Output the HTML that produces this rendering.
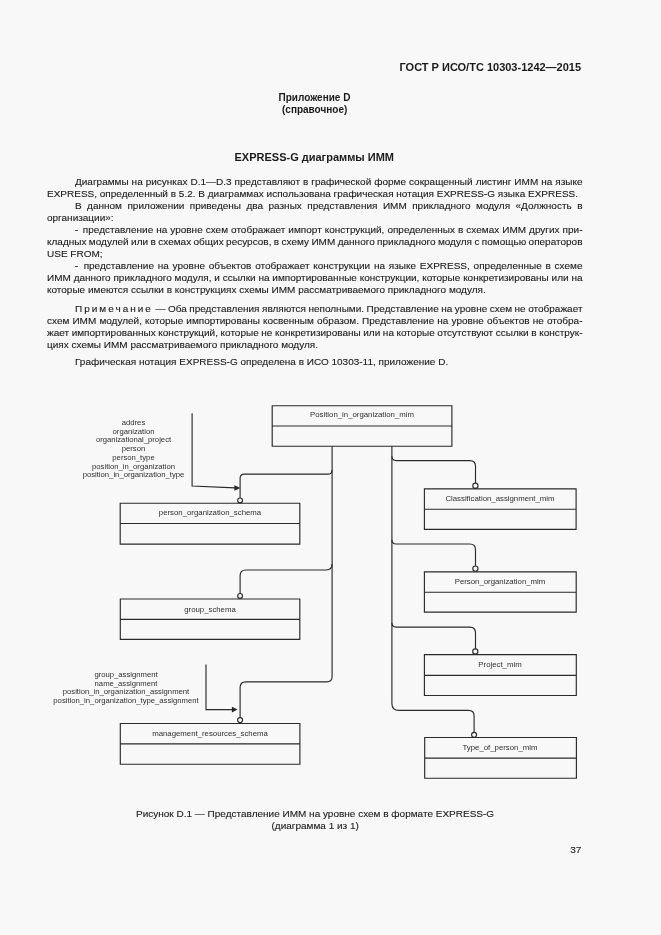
<!DOCTYPE html>
<html><head><meta charset="utf-8">
<style>
html,body{margin:0;padding:0;}
body{filter:grayscale(1);width:661px;height:935px;background:#f8f8f8;position:relative;overflow:hidden;font-family:"Liberation Sans",sans-serif;color:#1a1a1a;}
.a{position:absolute;white-space:nowrap;}
.t{position:absolute;left:47px;width:535.5px;font-size:10px;line-height:12px;height:12px;white-space:nowrap;transform:scaleY(0.9);transform-origin:0 9.5px;-webkit-text-stroke:0.12px #1a1a1a;}
.j{text-align:justify;text-align-last:justify;white-space:normal;word-spacing:-2px;}
.i{padding-left:28px;width:507.5px;}
.b{font-weight:bold;}
.c{transform:scaleY(0.9);transform-origin:0 9.5px;-webkit-text-stroke:0.12px #1a1a1a;}
.sp{letter-spacing:2.0px;}
svg{position:absolute;left:0;top:0;}
.lbl{position:absolute;font-size:7.7px;line-height:8.7px;text-align:center;white-space:nowrap;color:#2e2e2e;}
</style></head><body>
<div class="a b" style="left:399.5px;top:59.5px;font-size:11px;line-height:14px;">ГОСТ Р ИСО/ТС 10303-1242—2015</div>
<div class="a b" style="left:278.5px;top:92.2px;font-size:10px;line-height:12px;">Приложение D</div>
<div class="a b" style="left:282px;top:103.8px;font-size:10px;line-height:12px;">(справочное)</div>
<div class="a b" style="left:234.5px;top:150px;font-size:11px;line-height:14px;">EXPRESS-G диаграммы ИММ</div>

<div class="t j i" style="top:176px;">Диаграммы на рисунках D.1—D.3 представляют в графической форме сокращенный листинг ИММ на языке</div>
<div class="t" style="top:188px;">EXPRESS, определенный в 5.2. В диаграммах использована графическая нотация EXPRESS-G языка EXPRESS.</div>
<div class="t j i" style="top:200px;">В данном приложении приведены два разных представления ИММ прикладного модуля «Должность в</div>
<div class="t" style="top:212px;">организации»:</div>
<div class="t j i" style="top:224px;"><span style="margin-right:1.5px">-</span> представление на уровне схем отображает импорт конструкций, определенных в схемах ИММ других при-</div>
<div class="t j" style="top:236px;">кладных модулей или в схемах общих ресурсов, в схему ИММ данного прикладного модуля с помощью операторов</div>
<div class="t" style="top:248px;">USE FROM;</div>
<div class="t j i" style="top:260px;"><span style="margin-right:1.5px">-</span> представление на уровне объектов отображает конструкции на языке EXPRESS, определенные в схеме</div>
<div class="t j" style="top:272px;">ИММ данного прикладного модуля, и ссылки на импортированные конструкции, которые конкретизированы или на</div>
<div class="t" style="top:284px;">которые имеются ссылки в конструкциях схемы ИММ рассматриваемого прикладного модуля.</div>
<div class="t j i" style="top:302.5px;"><span class="sp">Примечание</span> — Оба представления являются неполными. Представление на уровне схем не отображает</div>
<div class="t j" style="top:314.5px;">схем ИММ модулей, которые импортированы косвенным образом. Представление на уровне объектов не отобра-</div>
<div class="t j" style="top:326.5px;">жает импортированных конструкций, которые не конкретизированы или на которые отсутствуют ссылки в конструк-</div>
<div class="t" style="top:338.5px;">циях схемы ИММ рассматриваемого прикладного модуля.</div>
<div class="t i" style="top:356.3px;">Графическая нотация EXPRESS-G определена в ИСО 10303-11, приложение D.</div>

<svg width="661" height="935" viewBox="0 0 661 935">
<g fill="none" stroke="#2a2a2a" stroke-width="1.15">
<!-- main box -->
<path d="M272.2 405.7 H451.9 V446.2 H272.2 Z M272.2 426 H451.9"/>
<!-- left boxes -->
<path d="M120.2 503.2 H299.8 V544.1 H120.2 Z M120.2 523.5 H299.8"/>
<path d="M120.3 599 H299.8 V639.4 H120.3 Z M120.3 619.3 H299.8"/>
<path d="M120.3 723.5 H299.9 V764.2 H120.3 Z M120.3 743.8 H299.9"/>
<!-- right boxes -->
<path d="M424.4 488.9 H576.1 V529.3 H424.4 Z M424.4 509.2 H576.1"/>
<path d="M424.4 571.8 H576.2 V612.1 H424.4 Z M424.4 592.2 H576.2"/>
<path d="M424.4 654.6 H576.3 V695.5 H424.4 Z M424.4 675.3 H576.3"/>
<path d="M424.7 737.5 H576.4 V778.2 H424.7 Z M424.7 758.1 H576.4"/>
<!-- left trunk -->
<path d="M332.1 446.2 V676.6 Q332.1 681.9 326.8 681.9 H245.8 Q240.1 681.9 240.1 687.6 V717.2"/>
<path d="M332.1 469.9 Q332.1 474.1 327.9 474.1 H244.3 Q240.1 474.1 240.1 478.3 V497.8"/>
<path d="M332.1 564.1 Q332.1 570 326.2 570 H245.9 Q240.1 570 240.1 575.8 V593.3"/>
<!-- right trunk -->
<path d="M391.9 446.2 V703.4 Q391.9 710.3 398.8 710.3 H468.6 Q474.1 710.3 474.1 715.8 V732.2"/>
<path d="M391.9 456.3 Q391.9 460.6 396.2 460.6 H469.8 Q475.5 460.6 475.5 466.3 V483"/>
<path d="M391.9 539.8 Q391.9 544 396.1 544 H469.8 Q475.5 544 475.5 549.7 V565.8"/>
<path d="M391.9 622.8 Q391.9 627.1 396.2 627.1 H469.8 Q475.5 627.1 475.5 632.8 V648.7"/>
<!-- circles -->
<circle cx="240.1" cy="500.4" r="2.4"/>
<circle cx="240.1" cy="595.9" r="2.4"/>
<circle cx="240.1" cy="720.1" r="2.5"/>
<circle cx="475.4" cy="485.8" r="2.6"/>
<circle cx="475.4" cy="568.6" r="2.6"/>
<circle cx="475.3" cy="651.5" r="2.6"/>
<circle cx="474.1" cy="734.8" r="2.5"/>
<!-- arrows -->
<path d="M192.1 413.2 V486 L235 487.9"/>
<path d="M206 664.5 V709.6 H233"/>
</g>
<g fill="#262626">
<path d="M240.4 488.1 L234.4 485.3 L234.4 490.7 Z"/>
<path d="M237.6 709.6 L231.9 706.8 L231.9 712.5 Z"/>
</g>
</svg>

<div class="lbl" style="font-size:7.8px;left:272px;width:180px;top:411px;">Position_in_organization_mim</div>
<div class="lbl" style="font-size:7.8px;left:120px;width:180px;top:509px;">person_organization_schema</div>
<div class="lbl" style="font-size:7.8px;left:120px;width:180px;top:606px;">group_schema</div>
<div class="lbl" style="font-size:7.8px;left:120px;width:180px;top:730px;">management_resources_schema</div>
<div class="lbl" style="font-size:7.8px;left:424px;width:152px;top:495px;">Classification_assignment_mim</div>
<div class="lbl" style="font-size:7.8px;left:424px;width:152px;top:578px;">Person_organization_mim</div>
<div class="lbl" style="font-size:7.8px;left:424px;width:152px;top:661px;">Project_mim</div>
<div class="lbl" style="font-size:7.8px;left:424px;width:152px;top:744px;">Type_of_person_mim</div>

<div class="lbl" style="left:73.5px;width:120px;top:419px;">addres<br>organization<br>organizational_project<br>person<br>person_type<br>position_in_organization<br>position_in_organization_type</div>
<div class="lbl" style="left:36px;width:180px;top:671px;">group_assignment<br>name_assignment<br>position_in_organization_assignment<br>position_in_organization_type_assignment</div>

<div class="a c" style="left:136px;top:808px;font-size:10px;line-height:12px;">Рисунок D.1 — Представление ИММ на уровне схем в формате EXPRESS-G</div>
<div class="a c" style="left:271.5px;top:820px;font-size:10px;line-height:12px;">(диаграмма 1 из 1)</div>
<div class="a c" style="left:570.2px;top:844px;font-size:10px;line-height:12px;">37</div>
</body></html>
